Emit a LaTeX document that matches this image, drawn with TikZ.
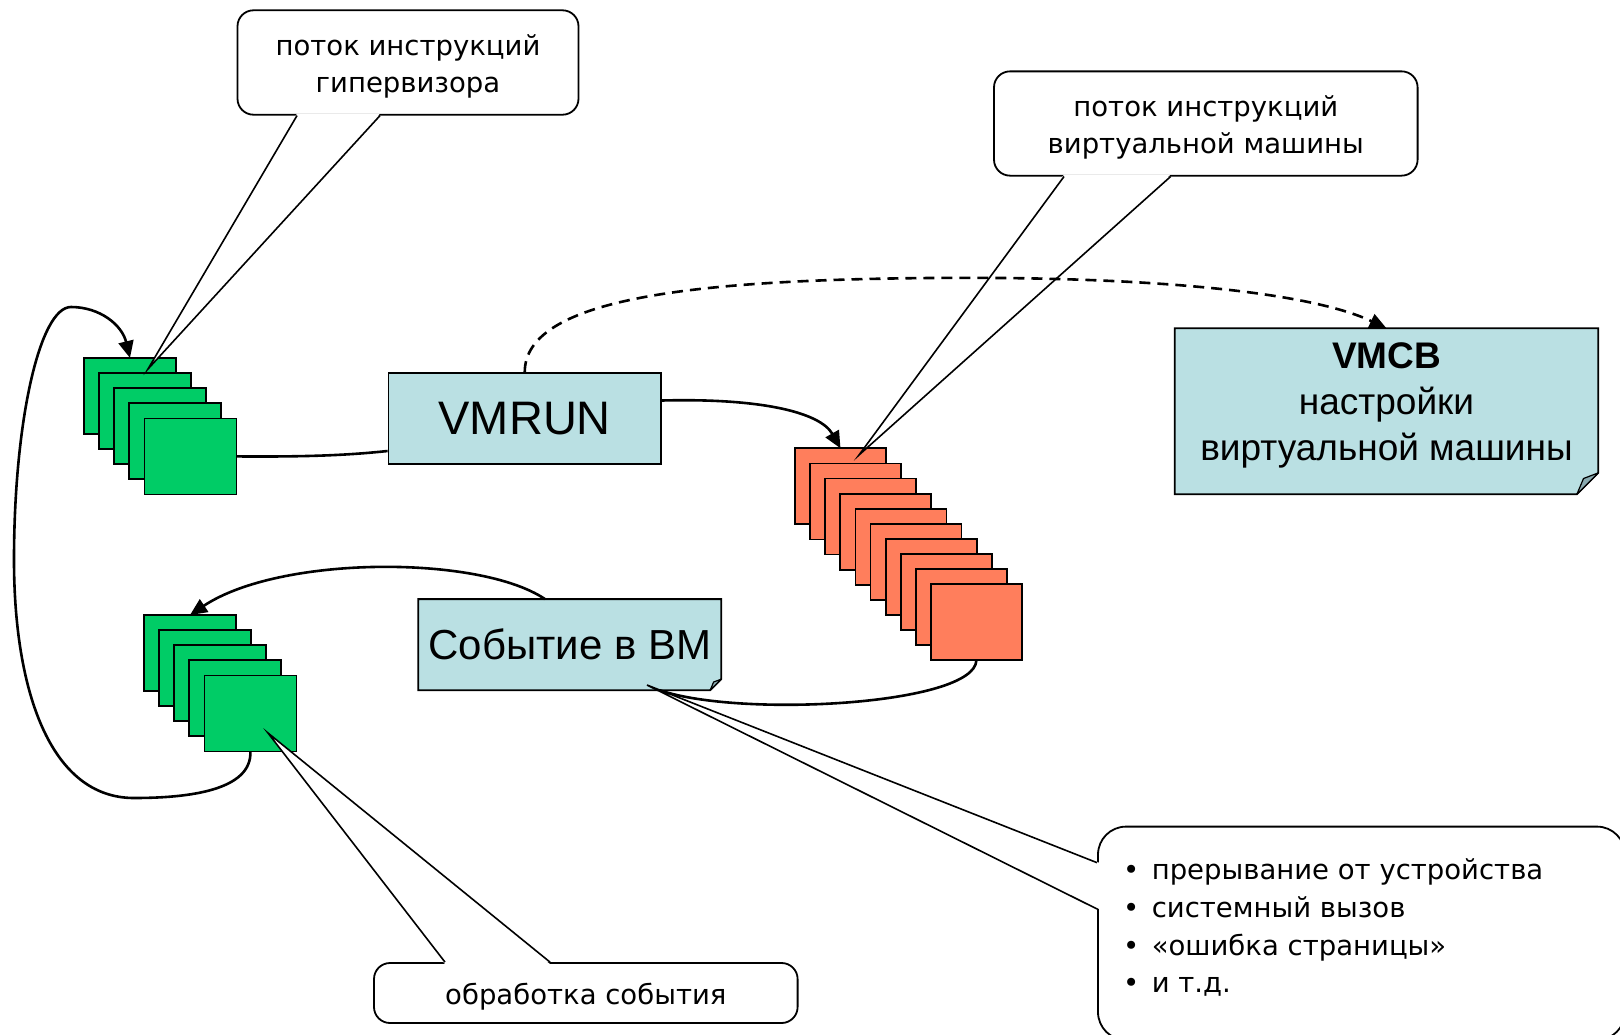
\documentclass[tikz,border=0pt]{standalone}
\usepackage{fontspec}
\setmainfont{Liberation Sans}
\newfontfamily\notefont{DejaVu Sans}
\usetikzlibrary{arrows.meta}
\pgfdeclarelayer{background}
\pgfsetlayers{background,main}

\definecolor{hvgreen}{RGB}{0,204,102}
\definecolor{vmorange}{RGB}{255,126,92}
\definecolor{panelblue}{RGB}{186,224,227}
\definecolor{foldblue}{RGB}{138,170,176}

% extra head room on the first line of a callout text
\newcommand\notestrut{\rule{0pt}{29pt}}

\begin{document}
\begin{tikzpicture}[x=1pt,y=-1pt,
  instr/.style={draw=black, line width=1.8pt, minimum width=92pt, minimum height=76pt, inner sep=0pt, outer sep=0pt},
  hvinstr/.style={instr, fill=hvgreen},
  vminstr/.style={instr, fill=vmorange, minimum width=91pt},
  panel/.style={fill=panelblue, draw=black, line width=1.8pt, line join=miter},
  fold/.style={fill=foldblue, draw=black, line width=1.2pt, line join=round},
  link/.style={line width=2.6pt},
  flow/.style={link, -{Triangle[length=17pt,width=15pt]}},
  note/.style={draw=black, fill=white, line width=1.8pt, rounded corners=16pt, inner sep=0pt,
               font=\notefont\fontsize{27.5}{37}\selectfont, align=center},
  listitem/.style={inner sep=0pt, font=\notefont\fontsize{27.5}{37}\selectfont},
  pointer/.style={line width=1.6pt, line join=miter}
]
\useasboundingbox (0,0) rectangle (1620,1034);
\clip (0,0) rectangle (1620,1034);

% hypervisor instruction stacks
\foreach \k in {0,...,4}
  \node[hvinstr] (g\k) at ({130+15.1*\k},{396+15.1*\k}) {};
\foreach \k in {0,...,4}
  \node[hvinstr] (h\k) at ({190+15.1*\k},{653+15.1*\k}) {};
% guest instruction stack
\foreach \k in {0,...,9}
  \node[vminstr] (o\k) at ({840.5+15.1*\k},{486.3+15.1*\k}) {};

% VMRUN
\node[panel, minimum width=272.5pt, minimum height=91pt, inner sep=0pt,
      font=\fontsize{47}{56}\selectfont] (vmrun) at (524.75,418.5) {VMRUN};

% VMCB panel with folded corner
\node[minimum width=423pt, minimum height=165.5pt, inner sep=0pt] (vmcb) at (1386.5,411.25) {};
\node[font=\fontsize{37}{46}\selectfont, align=center, inner sep=0pt] (vmcbtext) at (1386.5,405)
  {\textbf{VMCB}\\настройки\\виртуальной машины};

% event panel with folded corner
\node[minimum width=302.6pt, minimum height=90.7pt, inner sep=0pt,
      font=\fontsize{42}{50}\selectfont] (ev) at (569.7,644.65) {Событие в ВМ};

\begin{pgfonlayer}{background}
  \filldraw[panel] (vmcb.north west) -- (vmcb.north east) -- ([yshift=21.3pt]vmcb.south east)
    -- ([xshift=-21.3pt]vmcb.south east) -- (vmcb.south west) -- cycle;
  \filldraw[fold] ([yshift=21.3pt]vmcb.south east) -- ([xshift=-14.7pt,yshift=15.7pt]vmcb.south east)
    -- ([xshift=-21.3pt]vmcb.south east) -- cycle;
  \filldraw[panel] (ev.north west) -- (ev.north east) -- ([yshift=11pt]ev.south east)
    -- ([xshift=-11pt]ev.south east) -- (ev.south west) -- cycle;
  \filldraw[fold] ([yshift=11pt]ev.south east) -- ([xshift=-7.6pt,yshift=8.2pt]ev.south east)
    -- ([xshift=-11pt]ev.south east) -- cycle;
\end{pgfonlayer}

% control flow
\draw[link] (g4.east) .. controls (310,457) and (350,455) .. ([yshift=-32.5pt]vmrun.west);
\draw[flow] ([yshift=18pt]vmrun.east) .. controls (760,398) and (820,412) .. (o0.north);
\draw[link] (o9.south) .. controls (975,705) and (740,718) .. ([xshift=90pt]ev.south);
\draw[flow] ([xshift=-24.7pt]ev.north) .. controls (480,555) and (280,555) .. (h0.north);
\draw[flow] (h4.south) .. controls (252,790) and (190,798) .. (134,798)
  .. controls (50,798) and (14,690) .. (14,560)
  .. controls (14,420) and (40,307) .. (71,307)
  .. controls (100,307) and (122,325) .. (g0.north);

% callouts
\node[note, minimum width=341pt, minimum height=104.4pt] (c1) at (408,62.5)
  {\notestrut поток инструкций\\гипервизора};
\coordinate (c1tip) at (148,369);
\fill[white] ([xshift=-111pt,yshift=2pt]c1.south) -- (c1tip) -- ([xshift=-28pt,yshift=2pt]c1.south) -- cycle;
\draw[pointer] ([xshift=-111pt]c1.south) -- (c1tip) -- ([xshift=-28pt]c1.south);

\node[note, minimum width=423.6pt, minimum height=104.3pt] (c2) at (1205.8,123.5)
  {\notestrut поток инструкций\\виртуальной машины};
\coordinate (c2tip) at (859,455);
\fill[white] ([xshift=-141.8pt,yshift=2pt]c2.south) -- (c2tip) -- ([xshift=-35.2pt,yshift=2pt]c2.south) -- cycle;
\draw[pointer] ([xshift=-141.8pt]c2.south) -- (c2tip) -- ([xshift=-35.2pt]c2.south);

\node[note, minimum width=423.6pt, minimum height=60pt] (c3) at (585.8,993) {\notestrut обработка события};
\coordinate (c3tip) at (268,733);
\fill[white] ([xshift=-140.8pt,yshift=-2pt]c3.north) -- (c3tip) -- ([xshift=-35.8pt,yshift=-2pt]c3.north) -- cycle;
\draw[pointer] ([xshift=-140.8pt]c3.north) -- (c3tip) -- ([xshift=-35.8pt]c3.north);

\node[note, rounded corners=28pt, minimum width=527pt, minimum height=213.4pt] (c4) at (1361.5,933.3) {};
\coordinate (c4tip) at (647,685);
\fill[white] ([xshift=2pt,yshift=70.6pt]c4.west) -- (c4tip) -- ([xshift=2pt,yshift=24.3pt]c4.west) -- cycle;
\draw[pointer] ([yshift=70.6pt]c4.west) -- (c4tip) -- ([yshift=24.3pt]c4.west);
\foreach \t [count=\i from 0] in {прерывание от устройства, системный вызов, «ошибка страницы», и т.д.}
  \node[listitem, anchor=base west] (c4l\i) at (1123,{879.5+37.8*\i}) {•\hspace{0.45em}\t};

% VMCB is configured by VMRUN
\draw[flow, dash pattern=on 11pt off 7pt] (vmrun.north) .. controls +(0,-75) and (700,280) .. (930,278)
  .. controls (1150,276) and (1310,292) .. (vmcb.north);
\end{tikzpicture}
\end{document}
